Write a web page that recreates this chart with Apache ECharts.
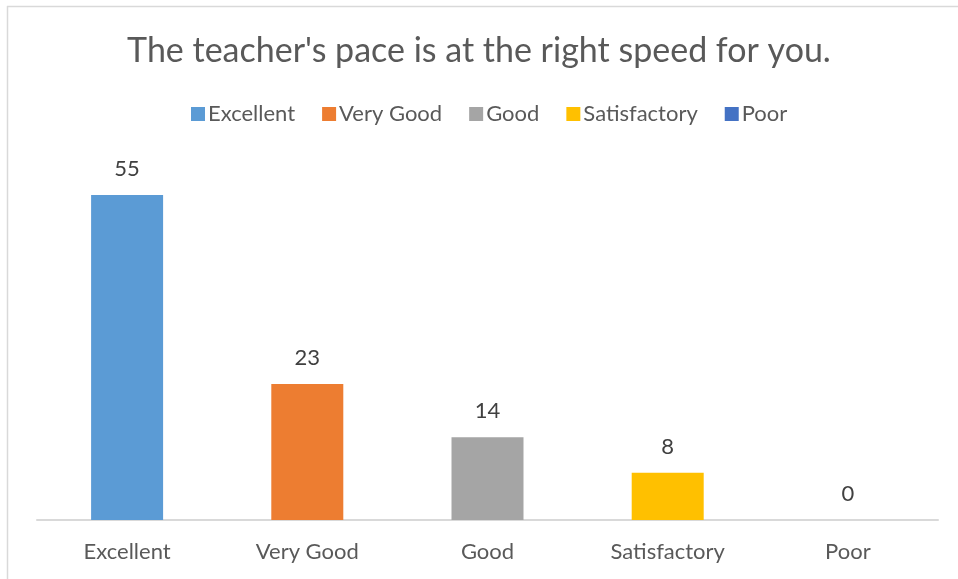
<!DOCTYPE html>
<html>
<head>
<meta charset="utf-8">
<script src="https://cdn.jsdelivr.net/npm/echarts@6/dist/echarts.min.js"></script>
<style>
html,body{margin:0;padding:0;background:#fff;}
#chart{width:958px;height:579px;}
</style>
</head>
<body>
<div id="chart"></div>
<script>
var categories = ['Excellent', 'Very Good', 'Good', 'Satisfactory', 'Poor'];
var values = [55, 23, 14, 8, 0];
var colors = ['#5B9BD5', '#ED7D31', '#A5A5A5', '#FFC000', '#4472C4'];

var FONT = 'Lato, "Open Sans", sans-serif';

// one series per category so each gets its own legend entry
var series = categories.map(function(name, i){
    return {
        name: name,
        type: 'bar',
        stack: 'one',
        barWidth: 72,
        itemStyle: { color: colors[i] },
        label: {
            show: true,
            position: 'top',
            distance: 15,
            color: '#404040',
            fontFamily: FONT,
            fontSize: 22
        },
        data: categories.map(function(c, j){ return j === i ? values[i] : '-'; })
    };
});

var myChart = echarts.init(document.getElementById('chart'), null, {renderer: 'canvas'});
var option = {
    animation: false,
    title: {
        text: "The teacher's pace is at the right speed for you.",
        left: 'center',
        top: 29,
        textStyle: {
            color: '#595959',
            fontFamily: FONT,
            fontWeight: 'normal',
            fontSize: 34
        }
    },
    legend: {
        top: 98,
        left: 186,
        itemWidth: 14,
        itemHeight: 14,
        itemGap: 27,
        icon: 'rect',
        textStyle: {
            color: '#595959',
            fontFamily: FONT,
            fontSize: 22,
            padding: [0, 0, 0, -2]
        },
        data: categories
    },
    grid: {
        left: 37,
        right: 20,
        top: 165.5,
        bottom: 59
    },
    xAxis: {
        type: 'category',
        data: categories,
        axisLine: { lineStyle: { color: '#D9D9D9', width: 2 } },
        axisTick: { show: false },
        axisLabel: {
            color: '#595959',
            fontFamily: FONT,
            fontSize: 22,
            margin: 21
        }
    },
    yAxis: {
        type: 'value',
        min: 0,
        max: 60,
        show: false
    },
    graphic: [
        { type: 'line', shape: { x1: 7.5, y1: 6, x2: 7.5, y2: 579 }, style: { stroke: '#D9D9D9', lineWidth: 1.5 } },
        { type: 'line', shape: { x1: 7, y1: 6.5, x2: 958, y2: 6.5 }, style: { stroke: '#D9D9D9', lineWidth: 1.5 } }
    ],
    series: series
};
myChart.setOption(option);
</script>
</body>
</html>
